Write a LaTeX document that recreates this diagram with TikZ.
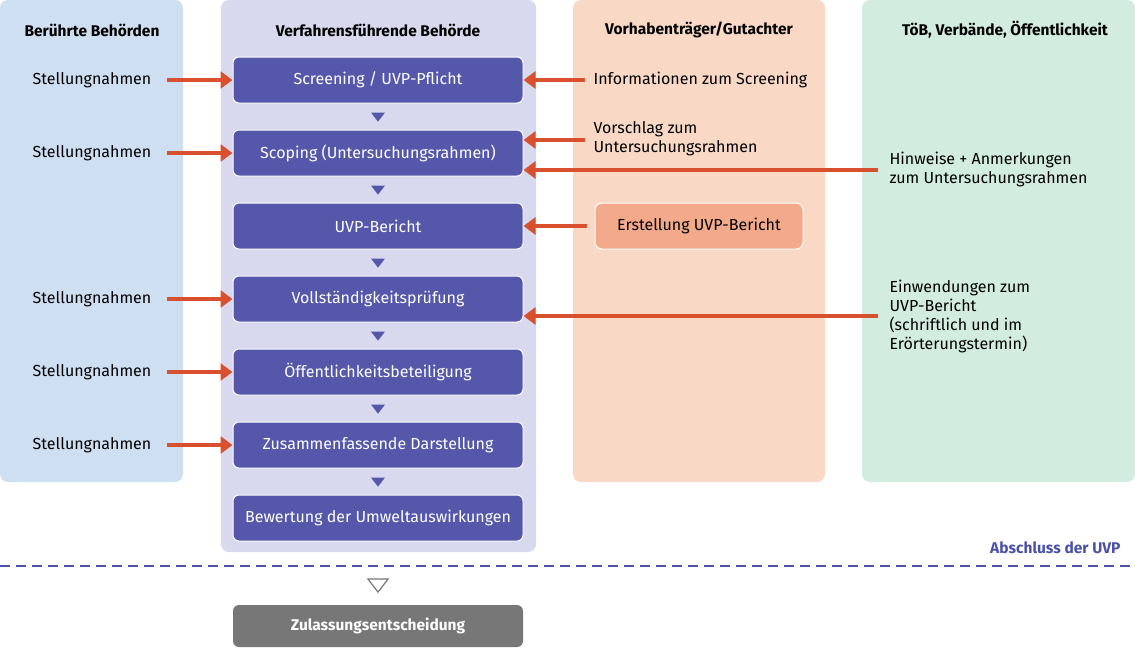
\documentclass[tikz,border=0pt]{standalone}
\usepackage{fontspec}
\setmainfont{Fira Sans}
\usetikzlibrary{arrows.meta,shapes.geometric}
\definecolor{cA}{HTML}{CFDFF2}
\definecolor{cB}{HTML}{D8D8EF}
\definecolor{cC}{HTML}{F9D8C6}
\definecolor{cD}{HTML}{D2ECDF}
\definecolor{box}{HTML}{5558AA}
\definecolor{arr}{HTML}{D9502F}
\definecolor{dashc}{HTML}{4A52A8}
\definecolor{erst}{HTML}{F2AA8A}
\definecolor{gr}{HTML}{777777}
\begin{document}
\begin{tikzpicture}[x=1pt,y=-1pt,
 col/.style={fill=#1,rounded corners=8pt,draw=none},
 hd/.style={font=\fontsize{15.5}{18}\selectfont\bfseries},
 txt/.style={font=\fontsize{16}{19}\selectfont,align=left},
 bx/.style={fill=box,draw=white,line width=1pt,rounded corners=6pt,minimum width=290pt,minimum height=46pt,text=white,font=\fontsize{16}{18}\selectfont},
 ar/.style={draw=arr,line width=3.5pt,-{Triangle[length=12pt,width=17pt]}},
 tri/.style={fill=box,draw=none,isosceles triangle,shape border rotate=-90,isosceles triangle apex angle=75,inner sep=0pt,minimum height=9pt,minimum width=14pt}]
\useasboundingbox (0,0) rectangle (1135,649);
\fill[col=cA] (0,0) rectangle (183,482);
\fill[col=cB] (221,0) rectangle (536,552);
\fill[col=cC] (573,0) rectangle (825,482);
\fill[col=cD] (862,0) rectangle (1135,482);
\node[hd] (h1) at (92,30) {Berührte Behörden};
\node[hd] (h2) at (378,30) {Verfahrensführende Behörde};
\node[hd] (h3) at (699,30) {Vorhabenträger/Gutachter};
\node[hd] (h4) at (1005,30) {TöB, Verbände, Öffentlichkeit};
\foreach \n/\y/\t in {b1/80/{Screening / UVP-Pflicht},b2/153/Scoping (Untersuchungsrahmen),b3/226/UVP-Bericht,b4/299/Vollständigkeitsprüfung,b5/372/Öffentlichkeitsbeteiligung,b6/445/Zusammenfassende Darstellung,b7/518/Bewertung der Umweltauswirkungen}
  \node[bx] (\n) at (378,\y) {\t};
\foreach \y [count=\i] in {116,189,262,335,408,481}
  \node[tri] (t\i) at (378,\y) {};
\foreach \n/\y in {b1/80,b2/153,b4/299,b5/372,b6/445}{
  \node[txt] (s\n) at (92,\y) {Stellungnahmen};
  \coordinate (a\n) at (167,\y);
  \draw[ar] (a\n) -- (\n.west);}
\node[txt,anchor=west] (i1) at (590,80) {Informationen zum Screening};
\draw[ar] (i1.west) ++(-5,0) -- (b1.east);
\node[txt,anchor=west] (i2) at (590,139) {Vorschlag zum\\Untersuchungsrahmen};
\draw[ar] (i2.west |- 0,140) ++(-5,0) -- (b2.east |- 0,140);
\node[fill=erst,draw=white,line width=1pt,rounded corners=7pt,minimum width=208pt,minimum height=46pt,font=\fontsize{16}{18}\selectfont] (er) at (699,226) {Erstellung UVP-Bericht};
\draw[ar] (er.west) ++(-8,0) -- (b3.east);
\node[txt,anchor=west] (i3) at (886,169) {Hinweise + Anmerkungen\\zum Untersuchungsrahmen};
\coordinate (c3) at (878,170);
\draw[ar] (c3) -- (b2.east |- c3);
\node[txt,anchor=west] (i4) at (886,316) {Einwendungen zum\\UVP-Bericht\\(schriftlich und im\\Erörterungstermin)};
\coordinate (c4) at (878,316);
\draw[ar] (c4) -- (b4.east |- c4);
\draw[dashc,line width=2pt,dash pattern=on 10pt off 6pt] (0,566) -- (1135,566);
\node[font=\fontsize{15.5}{18}\selectfont\bfseries,text=dashc,anchor=east] (ab) at (1124,548) {Abschluss der UVP};
\node[isosceles triangle,shape border rotate=-90,isosceles triangle apex angle=75,draw=gr,line width=1.2pt,fill=white,inner sep=0pt,minimum height=12pt,minimum width=20pt] (tz) at (378,584) {};
\node[fill=gr,rounded corners=6pt,minimum width=290pt,minimum height=42pt,text=white,font=\fontsize{15.5}{18}\selectfont\bfseries] (z) at (378,626) {Zulassungsentscheidung};
\end{tikzpicture}
\end{document}
